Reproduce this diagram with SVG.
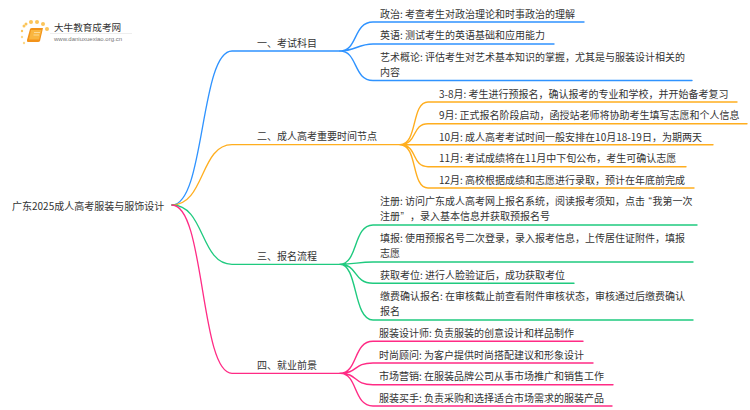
<svg xmlns="http://www.w3.org/2000/svg" width="750" height="410" viewBox="0 0 750 410">
<style>
text{font-family:"Noto Sans CJK SC","Liberation Sans",sans-serif;font-size:10px;fill:#333}
.q{font-family:"Liberation Sans",sans-serif}
.c{fill:none;stroke-linecap:round}
.b{stroke:#2f93ff}.o{stroke:#ffae1f}.g{stroke:#1fca7f}.p{stroke:#ff2b85}
.t{stroke-width:1.300}.u{stroke-width:1.400}
</style>
<rect width="750" height="410" fill="#fff"/>
<g id="connectors">
<g class="c b"><path class="t" d="M172 205C205 205 200 51 232 51H340"/>
<path class="u" d="M340 51C358 51 353 22 373 22H584M340 51C355 51 358 44 373 44H554M340 51C358 51 353 80.500 373 80.500H692"/></g>
<g class="c o"><path class="t" d="M172 205C205 205 200 144.700 232 144.700H400"/>
<path class="u" d="M400 144.700C418 144.700 411 102 428 102H737M400 144.700C418 144.700 411 123.700 428 123.700H747M400 144.700H713M400 144.700C418 144.700 411 166.700 428 166.700H686M400 144.700C418 144.700 411 188 428 188H694"/></g>
<g class="c g"><path class="t" d="M172 205C205 205 200 264.300 232 264.300H340"/>
<path class="u" d="M340 264.300C358 264.300 353 225 373 225H697M340 264.300C355 264.300 358 262 373 262H693M340 264.300C358 264.300 353 283.300 373 283.300H574M340 264.300C358 264.300 353 320 373 320H693"/></g>
<g class="c p"><path class="t" d="M172 205C205 205 200 373.300 232 373.300H340"/>
<path class="u" d="M340 373.300C358 373.300 353 341.300 373 341.300H583M340 373.300C358 373.300 353 363 373 363H593M340 373.300C358 373.300 353 384.700 373 384.700H613M340 373.300C358 373.300 353 406 373 406H612"/></g>
</g>
<g id="logo">
<path d="M30 29Q30.500 28 32 28H43L40 41Q39.500 42 38 42H28Q26.500 42 27 40Z" fill="#f2931a"/><path d="M31 30H41.500L39 39.500H29Z" fill="#f9b640"/><path d="M34 32.500H40M33.500 35H39" stroke="#fde3ac" stroke-width=".8"/>
<circle cx="24" cy="26" r="1.500" fill="#fbc55a"/><circle cx="26" cy="24" r="1.500" fill="#fbc55a"/><circle cx="31" cy="22" r="2" fill="#fbc55a"/><circle cx="37" cy="22" r="2" fill="#fbc55a"/><circle cx="43" cy="24" r="2" fill="#fbc55a"/><circle cx="47" cy="29" r="2" fill="#fbc55a"/><circle cx="22" cy="31" r="1.200" fill="#fbc55a"/><circle cx="22" cy="37" r="1.200" fill="#fbd98a"/><circle cx="24" cy="43" r="1.200" fill="#fbd98a"/>
<path d="M50 33.500H132" stroke="#eee" stroke-width="1"/>
<text x="54" y="31" style="font-size:9.600px">大牛教育成考网</text>
<text x="54" y="41" style="font-size:6px;font-family:'Liberation Sans',sans-serif;fill:#777">www.daniuxuexiao.org.cn</text>
</g>
<g id="root"><text x="12" y="210">广东2025成人高考服装与服饰设计</text></g>
<g id="b1"><text x="257" y="47">一、考试科目</text></g>
<g id="b2"><text x="257" y="140">二、成人高考重要时间节点</text></g>
<g id="b3"><text x="257" y="260">三、报名流程</text></g>
<g id="b4"><text x="257" y="369">四、就业前景</text></g>
<g id="l1"><text x="380" y="18">政治: 考查考生对政治理论和时事政治的理解</text></g>
<g id="l2"><text x="380" y="39">英语: 测试考生的英语基础和应用能力</text></g>
<g id="l3"><text x="380" y="61">艺术概论: 评估考生对艺术基本知识的掌握，尤其是与服装设计相关的</text><text x="380" y="76">内容</text></g>
<g id="l4"><text x="439" y="98">3-8月: 考生进行预报名，确认报考的专业和学校，并开始备考复习</text></g>
<g id="l5"><text x="439" y="119">9月: 正式报名阶段启动，函授站老师将协助考生填写志愿和个人信息</text></g>
<g id="l6"><text x="439" y="141">10月: 成人高考考试时间一般安排在10月18-19日，为期两天</text></g>
<g id="l7"><text x="439" y="162">11月: 考试成绩将在11月中下旬公布，考生可确认志愿</text></g>
<g id="l8"><text x="439" y="184">12月: 高校根据成绩和志愿进行录取，预计在年底前完成</text></g>
<g id="l9"><text x="380" y="205">注册: 访问广东成人高考网上报名系统，阅读报考须知，点击 <tspan class="q" x="648.500">“</tspan><tspan x="652.500">我第一次</tspan></text><text x="380" y="220">注册<tspan class="q" x="400.500">”</tspan><tspan x="410">，录入基本信息并获取预报名号</tspan></text></g>
<g id="l10"><text x="380" y="242">填报: 使用预报名号二次登录，录入报考信息，上传居住证附件，填报</text><text x="380" y="257">志愿</text></g>
<g id="l11"><text x="380" y="279">获取考位: 进行人脸验证后，成功获取考位</text></g>
<g id="l12"><text x="380" y="300">缴费确认报名: 在审核截止前查看附件审核状态，审核通过后缴费确认</text><text x="380" y="315">报名</text></g>
<g id="l13"><text x="379" y="337">服装设计师: 负责服装的创意设计和样品制作</text></g>
<g id="l14"><text x="379" y="359">时尚顾问: 为客户提供时尚搭配建议和形象设计</text></g>
<g id="l15"><text x="379" y="380">市场营销: 在服装品牌公司从事市场推广和销售工作</text></g>
<g id="l16"><text x="379" y="402">服装买手: 负责采购和选择适合市场需求的服装产品</text></g>
</svg>
